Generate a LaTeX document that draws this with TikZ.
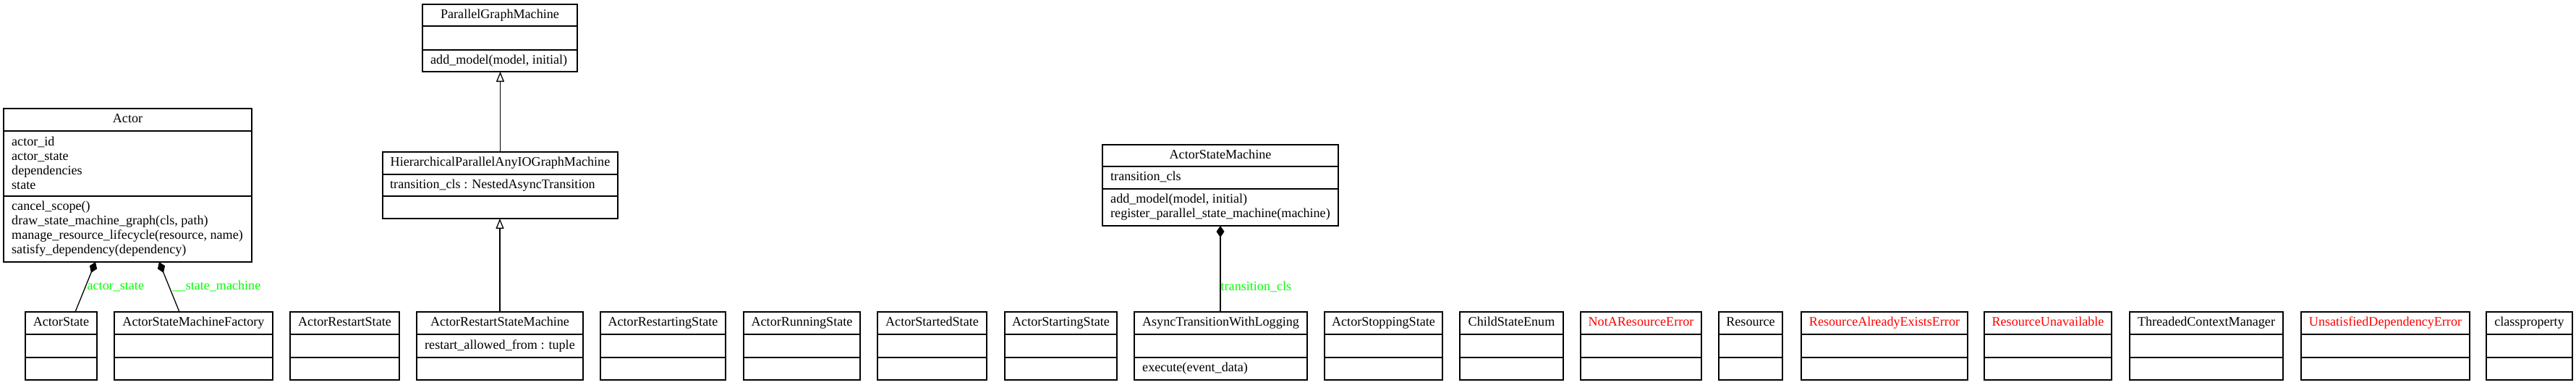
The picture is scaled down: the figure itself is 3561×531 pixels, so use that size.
\documentclass[tikz,border=0pt]{standalone}
\usepackage{fontspec}
\setmainfont{Liberation Serif}
\usetikzlibrary{arrows.meta}
\definecolor{lblgreen}{RGB}{0,255,0}
\definecolor{errred}{RGB}{255,0,0}
\tikzset{
  classbox/.style={draw=black, line width=1.4pt, inner sep=0pt, outer sep=0pt},
  sepline/.style={draw=black, line width=1.4pt},
  titletext/.style={font=\fontsize{18.1}{20}\selectfont, inner sep=0pt, text height=12.5pt, text depth=4pt},
  membertext/.style={font=\fontsize{18.1}{20}\selectfont, inner sep=0pt, anchor=west, align=left},
  oneline/.style={membertext, text height=12.5pt, text depth=4pt},
  edgelabel/.style={font=\fontsize{18.1}{20}\selectfont, text=lblgreen, inner sep=0pt, anchor=west, text height=12.5pt, text depth=4pt},
  inherit/.style={line width=1.3pt, -{Triangle[open, length=14pt, width=11pt, fill=white]}},
  compose/.style={line width=1.3pt, {Diamond[length=16pt, width=11pt]}-},
}
% #1 name, #2 left, #3 right, #4 top, #5 sep1, #6 sep2, #7 bottom, #8 title, #9 title colour
\newcommand{\umlclass}[9]{%
  \node[classbox, anchor=north west, minimum width={(#3-#2)*1pt}, minimum height={(#7-#4)*1pt}] (#1) at (#2,#4) {};
  \draw[sepline] (#2,#5) -- (#3,#5) (#2,#6) -- (#3,#6);
  \node[titletext, text=#9] (#1-title) at ({(#2+#3)/2},{(#4+#5)/2}) {#8};
}
\newcommand{\rowclass}[5]{\umlclass{#1}{#2}{#3}{431}{462}{494}{525}{#4}{#5}}
\begin{document}
\begin{tikzpicture}[x=1pt,y=-1pt]
\useasboundingbox[fill=white] (0,0) rectangle (3561,531);

% upper classes
\umlclass{pgm}{584}{798}{6}{36}{69}{99}{ParallelGraphMachine}{black}
\node[oneline] (pgm-m) at (595,84) {add\_model(model, initial)};

\umlclass{actor}{5}{348}{150}{181}{271}{362}{Actor}{black}
\node[membertext] (actor-a) at (16,225.7) {actor\_id\\actor\_state\\dependencies\\state};
\node[membertext] (actor-m) at (16,316.5) {cancel\_scope()\\draw\_state\_machine\_graph(cls, path)\\manage\_resource\_lifecycle(resource, name)\\satisfy\_dependency(dependency)};

\umlclass{hpm}{529}{854}{210}{241}{271}{302}{HierarchicalParallelAnyIOGraphMachine}{black}
\node[oneline] (hpm-a) at (539,256) {transition\_cls : NestedAsyncTransition};

\umlclass{asm}{1524}{1850}{200}{230}{261}{312}{ActorStateMachine}{black}
\node[oneline] (asm-a) at (1535,245.5) {transition\_cls};
\node[membertext] (asm-m) at (1535,286.5) {add\_model(model, initial)\\register\_parallel\_state\_machine(machine)};

% bottom row
\rowclass{astate}{35}{134}{ActorState}{black}
\rowclass{asmf}{158}{377}{ActorStateMachineFactory}{black}
\rowclass{arstate}{401}{552}{ActorRestartState}{black}
\rowclass{arsm}{576}{806}{ActorRestartStateMachine}{black}
\node[oneline] (arsm-a) at (587,478) {restart\_allowed\_from : tuple};
\rowclass{arestarting}{830}{1003}{ActorRestartingState}{black}
\rowclass{arunning}{1028}{1189}{ActorRunningState}{black}
\rowclass{astarted}{1213}{1364}{ActorStartedState}{black}
\rowclass{astarting}{1389}{1544}{ActorStartingState}{black}
\rowclass{atwl}{1568}{1807}{AsyncTransitionWithLogging}{black}
\node[oneline] (atwl-m) at (1579,509.5) {execute(event\_data)};
\rowclass{astopping}{1831}{1994}{ActorStoppingState}{black}
\rowclass{cse}{2018}{2161}{ChildStateEnum}{black}
\rowclass{nare}{2185}{2352}{NotAResourceError}{errred}
\rowclass{res}{2376}{2464}{Resource}{black}
\rowclass{raee}{2490}{2720}{ResourceAlreadyExistsError}{errred}
\rowclass{ru}{2743}{2919}{ResourceUnavailable}{errred}
\rowclass{tcm}{2944}{3156}{ThreadedContextManager}{black}
\rowclass{ude}{3181}{3414}{UnsatisfiedDependencyError}{errred}
\rowclass{cp}{3437}{3556}{classproperty}{black}

% connectors
\draw[inherit] (hpm.north) -- (hpm.north |- pgm.south);
\draw[inherit] (arsm.north) -- (arsm.north |- hpm.south);
\draw[compose] ([xshift=-44.5pt]actor.south) -- node[edgelabel, pos=0.5, xshift=2pt] (lbl-as) {actor\_state} ([xshift=19.5pt]astate.north);
\draw[compose] ([xshift=43.5pt]actor.south) -- node[edgelabel, pos=0.5, xshift=4pt] (lbl-sm) {\_\_state\_machine} ([xshift=-19.5pt]asmf.north);
\draw[compose] (asm.south) -- node[edgelabel, pos=0.714] (lbl-tc) {transition\_cls} (asm.south |- atwl.north);
\end{tikzpicture}
\end{document}
